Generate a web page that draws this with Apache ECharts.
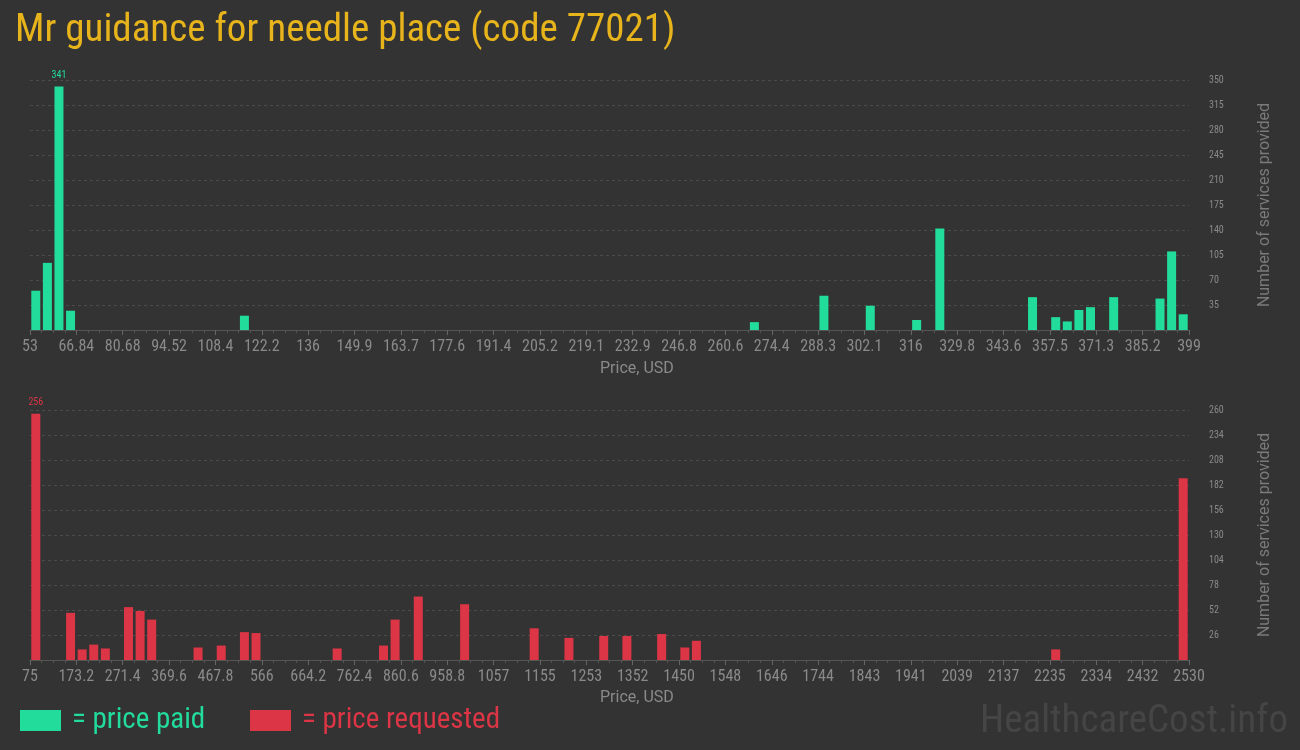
<!DOCTYPE html>
<html>
<head>
<meta charset="utf-8">
<script src="https://cdn.jsdelivr.net/npm/echarts@6/dist/echarts.min.js"></script>
<style>
html,body{margin:0;padding:0;background:#333333;}
#chart{width:1300px;height:750px;}
</style>
</head>
<body>
<div id="chart"></div>
<script>
// ---- data ----
const titleText = "Mr guidance for needle place (code 77021)";
// price paid histogram: bin index (0..99) and count
const paidBins   = [0, 1, 2, 3, 18, 62, 68, 72, 76, 78, 86, 88, 89, 90, 91, 93, 97, 98, 99];
const paidCounts = [55, 94, 341, 27, 20, 11, 48, 34, 14, 142, 46, 18, 12, 28, 32, 46, 44, 110, 22];
const paidTickLabels = ["53","66.84","80.68","94.52","108.4","122.2","136","149.9","163.7","177.6","191.4","205.2","219.1","232.9","246.8","260.6","274.4","288.3","302.1","316","329.8","343.6","357.5","371.3","385.2","399"];
// price requested histogram
const reqBins   = [0, 3, 4, 5, 6, 8, 9, 10, 14, 16, 18, 19, 26, 30, 31, 33, 37, 43, 46, 49, 51, 54, 56, 57, 88, 99];
const reqCounts = [256, 49, 11, 16, 12, 55, 51, 42, 13, 15, 29, 28, 12, 15, 42, 66, 58, 33, 23, 25, 25, 27, 13, 20, 11, 189];
const reqTickLabels = ["75","173.2","271.4","369.6","467.8","566","664.2","762.4","860.6","958.8","1057","1155","1253","1352","1450","1548","1646","1744","1843","1941","2039","2137","2235","2334","2432","2530"];

const GREEN = '#22dc9c';
const RED = '#dc3545';
const COND = '"Roboto Condensed","Liberation Sans Narrow","DejaVu Sans Condensed","Roboto",sans-serif';

function toData(bins, counts) {
  const mx = Math.max.apply(null, counts);
  return bins.map((b, i) => ({
    value: [b + 0.5, counts[i]],
    label: { show: counts[i] === mx }
  }));
}

function xAxis(gridIndex, labels) {
  return {
    type: 'value', gridIndex: gridIndex, min: 0, max: 100, interval: 4,
    axisLine: { show: true, lineStyle: { color: '#555555' } },
    axisTick: { show: true, length: 5, lineStyle: { color: '#666666' } },
    minorTick: { show: true, splitNumber: 4, length: 3, lineStyle: { color: '#555555' } },
    splitLine: { show: false },
    axisLabel: {
      color: '#8a8a8a', fontFamily: COND, fontSize: 16, margin: 9,
      formatter: v => labels[Math.round(v / 4)],
      showMinLabel: true, showMaxLabel: true, hideOverlap: false
    }
  };
}
function yAxis(gridIndex, max, interval) {
  return {
    type: 'value', gridIndex: gridIndex, position: 'right', min: 0, max: max, interval: interval,
    name: 'Number of services provided', nameLocation: 'middle', nameGap: 68,
    nameTextStyle: { color: '#7a7a7a', fontFamily: '"Roboto",sans-serif', fontSize: 16 },
    axisLine: { show: false }, axisTick: { show: false },
    axisLabel: {
      color: '#8a8a8a', fontFamily: COND, fontSize: 10, margin: 20,
      formatter: v => v === 0 ? '' : String(v)
    },
    splitLine: { show: true, lineStyle: { color: '#4c4c4c', type: [3, 3] } }
  };
}

const chart = echarts.init(document.getElementById('chart'));
chart.setOption({
  backgroundColor: '#333333',
  animation: false,
  grid: [
    { left: 30, right: 111, top: 80, bottom: 420 },
    { left: 30, right: 111, top: 410, bottom: 90 }
  ],
  xAxis: [xAxis(0, paidTickLabels), xAxis(1, reqTickLabels)],
  yAxis: [yAxis(0, 350, 35), yAxis(1, 260, 26)],
  series: [
    {
      type: 'bar', xAxisIndex: 0, yAxisIndex: 0, barWidth: 9,
      itemStyle: { color: GREEN },
      label: { position: 'top', color: GREEN, fontFamily: COND, fontSize: 10, distance: 6 },
      data: toData(paidBins, paidCounts)
    },
    {
      type: 'bar', xAxisIndex: 1, yAxisIndex: 1, barWidth: 9,
      itemStyle: { color: RED },
      label: { position: 'top', color: RED, fontFamily: COND, fontSize: 10, distance: 6 },
      data: toData(reqBins, reqCounts)
    }
  ],
  graphic: [
    { type: 'text', left: 15, top: 12, style: { text: titleText, fill: '#e8b41c', font: '39px ' + COND } },
    { type: 'text', left: 600, top: 361, style: { text: 'Price, USD', fill: '#8a8a8a', font: '16px "Roboto",sans-serif' } },
    { type: 'text', left: 600, top: 690, style: { text: 'Price, USD', fill: '#8a8a8a', font: '16px "Roboto",sans-serif' } },
    { type: 'rect', shape: { x: 20, y: 710, width: 41, height: 21 }, style: { fill: GREEN } },
    { type: 'text', left: 72, top: 706, style: { text: '= price paid', fill: GREEN, font: '29px ' + COND } },
    { type: 'rect', shape: { x: 250, y: 710, width: 41, height: 21 }, style: { fill: RED } },
    { type: 'text', left: 302, top: 706, style: { text: '= price requested', fill: RED, font: '29px ' + COND } },
    { type: 'text', right: 12, top: 703, style: { text: 'HealthcareCost.info', fill: '#454545', font: '39px ' + COND } }
  ]
});
</script>
</body>
</html>
